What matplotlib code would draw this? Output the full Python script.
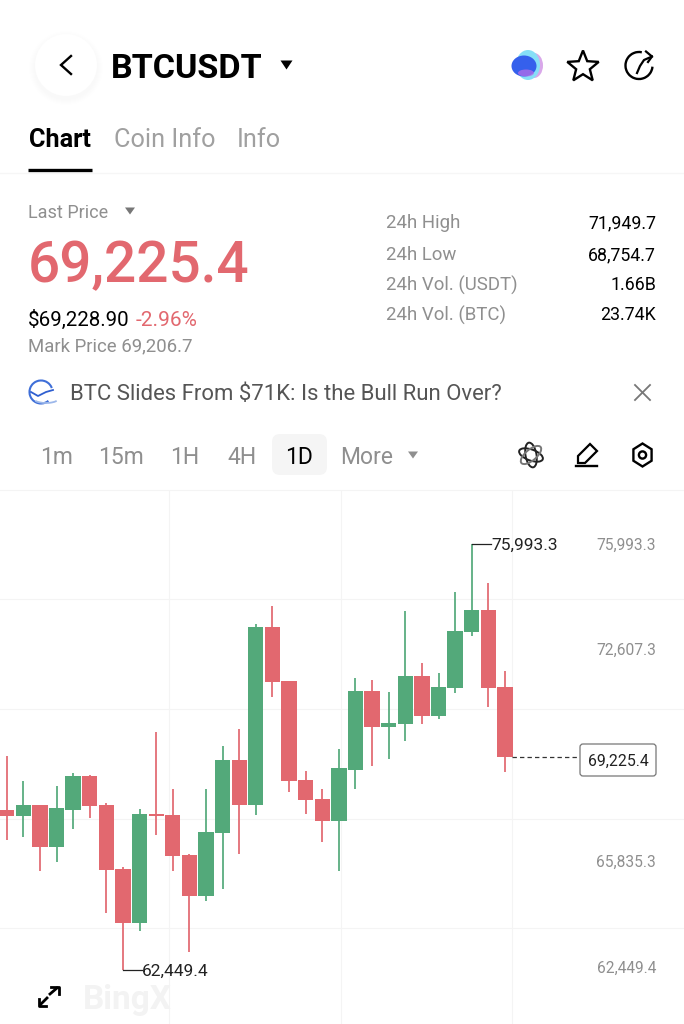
import numpy as np
import matplotlib
matplotlib.use('Agg')
import matplotlib.pyplot as plt
from matplotlib.patches import Circle, FancyBboxPatch, Polygon, Arc, Ellipse

plt.rcParams['font.family'] = ['Roboto', 'DejaVu Sans']

RED = '#e2686f'
GREEN = '#53a97a'
GREY = '#8f8f8f'
GRID = '#f4f4f4'

# daily candles, oldest first
opens = [67537, 67346, 67696, 66361, 67537, 68618, 67696, 65661, 63945, 67410, 67378,
         66106, 64803, 66806, 69126, 67696, 73354, 71638, 68491, 67887, 67187, 68808,
         71320, 70175, 70271, 71797, 70525, 71415, 73196, 73895, 71447]
highs = [69254, 68459, 67696, 68300, 68713, 68650, 67759, 65725, 67569, 70016, 68204,
         66138, 68204, 69571, 70112, 73450, 74022, 71638, 68777, 68204, 69476, 71733,
         71670, 71288, 73863, 72210, 71892, 74467, 75993.3, 74753, 71956]
lows = [66583, 66679, 65598, 65884, 66933, 67283, 64262, 62449.4, 63690, 66742, 65598,
        63023, 64644, 65025, 66138, 67378, 71129, 68109, 67410, 66520, 65598, 68204,
        68936, 69158, 69730, 70271, 70430, 71256, 73069, 70811, 68745]
closes = [67346, 67696, 66361, 67600, 68618, 67664, 65629, 63945, 67410, 67340, 66075,
          64803, 66837, 69126, 67696, 73354, 71606, 68459, 67855, 67187, 68872, 71320,
          70175, 70303, 71797, 70525, 71447, 73227, 73895, 71415, 69225.4]

axis_labels = ['75,993.3', '72,607.3', '65,835.3', '62,449.4']
grid_prices = [74245, 70760, 67265, 63770]
grid_days = [9.8, 20.1, 30.45]
last_price = 69225.4
high_price = 75993.3
low_price = 62449.4

intervals = ['1m', '15m', '1H', '4H', '1D', 'More']
stat_names = ['24h High', '24h Low', '24h Vol. (USDT)', '24h Vol. (BTC)']
stat_values = ['71,949.7', '68,754.7', '1.66B', '23.74K']

fig = plt.figure(figsize=(6.84, 10.24), dpi=100, facecolor='white')

# chart part
ax = fig.add_axes([0, 0, 1, 534 / 1024])
ax.set_xlim(-0.403, 40.78)
ax.set_ylim(60734, 77710)
for s in ax.spines.values():
    s.set_visible(False)
ax.set_yticks(grid_prices)
ax.set_xticks(grid_days)
ax.tick_params(length=0, labelleft=False, labelbottom=False)
ax.grid(True, color=GRID, lw=0.8)
ax.set_axisbelow(True)

days = np.arange(len(opens))
colors = [GREEN if c >= o else RED for o, c in zip(opens, closes)]
bottoms = np.minimum(opens, closes)
heights = np.abs(np.array(closes) - np.array(opens))
ax.vlines(days, lows, highs, colors=colors, lw=1.25, zorder=2)
ax.bar(days, heights, bottom=bottoms, width=0.92, color=colors, zorder=3)

# high / low / last markers
ax.plot([28, 29.15], [high_price, high_price], color='#222222', lw=0.9, zorder=4)
ax.plot([7, 8.15], [low_price, low_price], color='#222222', lw=0.9, zorder=4)
ax.plot([30.45, 34.5], [last_price, last_price], color='#333333', lw=0.9, ls=(0, (3.5, 2.5)), zorder=4)

# everything else in screen pixels on top
ov = fig.add_axes([0, 0, 1, 1], facecolor='none')
ov.set_xlim(0, 684)
ov.set_ylim(1024, 0)
ov.axis('off')


def txt(x, y, s, size, color='black', ha='left', weight='normal', **kw):
    ov.text(x, y, s, fontsize=size, color=color, ha=ha, va='center_baseline', fontweight=weight, **kw)


def tri(x, y, w, h, color):
    ov.add_patch(Polygon([(x - w / 2, y - h / 2), (x + w / 2, y - h / 2), (x, y + h / 2)], color=color, lw=0))


ov.plot([0, 684], [490, 490], color=GRID, lw=0.8)

# header
for r in [37, 36, 35, 34, 33, 32]:
    ov.add_patch(Circle((66, 68), r, color='black', alpha=0.005, lw=0))
ov.add_patch(Circle((66, 65), 31, color='white', lw=0))
ov.plot([71, 61, 71], [56, 65, 74], color='black', lw=1.7, solid_joinstyle='miter')
txt(111, 65, 'BTCUSDT', 24.6, weight='bold')
tri(286.5, 65, 12, 9, 'black')

# blob icon
ov.add_patch(Ellipse((534, 65.5), 18, 25, color='#d9a8ea', lw=0))
ov.add_patch(Ellipse((528, 65), 24, 30, color='#86dff7', lw=0))
ov.add_patch(Ellipse((524, 66), 25, 21, color='#3560ec', lw=0))
ov.add_patch(Ellipse((526, 73), 16, 7, color='#b56ee8', lw=0, alpha=0.75))

# star
ang = np.deg2rad(np.arange(0, 360, 36) - 90)
rad = np.where(np.arange(10) % 2 == 0, 16.5, 7.2)
ov.add_patch(Polygon(np.c_[583 + rad * np.cos(ang), 67 + rad * np.sin(ang)], fill=False, ec='black', lw=1.7, joinstyle='miter'))

# share icon
ov.add_patch(Arc((639, 65.5), 27, 27, theta1=5, theta2=282, color='black', lw=1.7))
ov.plot([637, 640, 644, 652], [73, 66, 60, 56.5], color='black', lw=1.6)
ov.plot([646, 652, 648], [51.5, 56.5, 62], color='black', lw=1.6)

# tabs
txt(29, 137.5, 'Chart', 18.2, weight='bold')
txt(114, 137.5, 'Coin Info', 18.2, color='#a0a0a0')
txt(237, 137.5, 'Info', 18.2, color='#a0a0a0')
ov.plot([28, 92], [170, 170], color='black', lw=2.4, solid_capstyle='butt')
ov.plot([0, 684], [172.5, 172.5], color='#f6f6f6', lw=0.9)

# price block
txt(28, 210.5, 'Last Price', 13, color=GREY)
tri(130, 211, 10, 7, '#777777')
txt(28, 261, '69,225.4', 40.8, color=RED, weight='medium')
txt(28, 318, '$69,228.90', 14.8)
txt(136, 318, '-2.96%', 15, color=RED)
txt(28, 344, 'Mark Price 69,206.7', 13.4, color=GREY)

for y, n, v in zip([222, 254, 284, 314], stat_names, stat_values):
    txt(386, y - 0.5, n, 13.4, color=GREY)
    txt(656, y - 0.5, v, 12.8, ha='right')

# news line
ov.add_patch(Arc((41, 392), 23, 23, theta1=50, theta2=340, color='#3f6fd8', lw=1.5))
ov.plot([31, 38, 46, 53], [392, 396, 392, 390], color='#2f5fd0', lw=1.3)
ov.add_patch(Arc((46, 397), 28, 12, theta1=20, theta2=160, color='#9db8ea', lw=1.3))
txt(70, 391.5, 'BTC Slides From $71K: Is the Bull Run Over?', 15.95, color='#555555')
ov.plot([635, 650], [385, 400], color='#777777', lw=1.3)
ov.plot([635, 650], [400, 385], color='#777777', lw=1.3)

# interval buttons
ov.add_patch(FancyBboxPatch((272, 434), 55, 41, boxstyle='round,pad=0,rounding_size=8', fc='#f5f5f5', ec='none'))
for x, s in zip([57, 121, 185, 242, 299, 367], intervals):
    txt(x, 454.5, s, 16.5, color='black' if s == '1D' else GREY, ha='center')
tri(413, 455, 10, 7, GREY)

# atom icon
for a, c in zip([20, 80, 140], ['#222222', '#222222', '#777777']):
    ov.add_patch(Ellipse((531, 455), 25, 11, angle=a, fill=False, ec=c, lw=1.4))
# pencil
ov.add_patch(Polygon([(578, 456), (590, 444), (597, 451), (585, 463), (578, 463)], fill=False, ec='black', lw=1.6))
ov.plot([576, 597], [465.5, 465.5], color='black', lw=1.7)
# hexagon
ang = np.deg2rad(np.arange(0, 360, 60) + 90)
ov.add_patch(Polygon(np.c_[642.5 + 10.5 * np.cos(ang), 455 + 11.5 * np.sin(ang)], fill=False, ec='black', lw=1.7))
ov.add_patch(Circle((642.5, 455), 3.6, fill=False, ec='black', lw=1.7))

# chart texts
txt(491, 544, '75,993.3', 12.5, color='#222222')
txt(142, 970, '62,449.4', 12.5, color='#222222')
for y, s in zip([544, 649, 861, 967], axis_labels):
    txt(656, y, s, 11.2, color=GREY, ha='right')
ov.add_patch(FancyBboxPatch((580, 744), 76, 32, boxstyle='round,pad=0,rounding_size=3', fc='white', ec='#777777', lw=0.9))
txt(649, 760, '69,225.4', 11.4, color='#222222', ha='right')

# expand icon
ov.plot([41, 47], [1004, 998], color='black', lw=2)
ov.plot([39, 39, 46], [999, 1006, 1006], color='black', lw=2)
ov.plot([50, 57], [994, 988], color='black', lw=2)
ov.plot([51, 59, 59], [987, 987, 994], color='black', lw=2)

# watermark
txt(83, 996, 'BingX', 24, color='#f3f3f3', weight='bold')

fig.savefig('out.png', dpi=100)
